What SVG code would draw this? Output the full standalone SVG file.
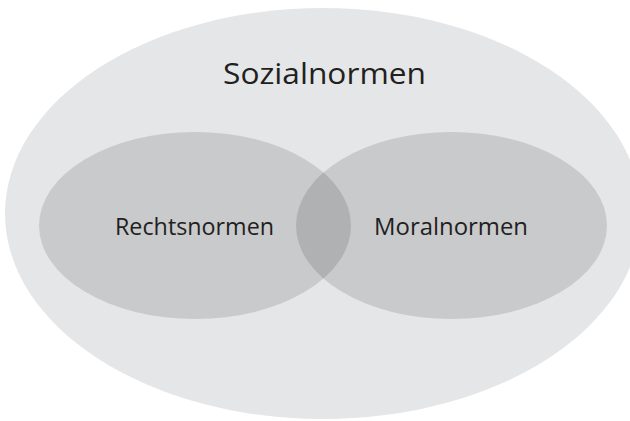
<svg xmlns="http://www.w3.org/2000/svg" width="630" height="421" viewBox="0 0 630 421">
  <style>
    .lbl { font-family: "Open Sans", "Noto Sans", "Liberation Sans", sans-serif; fill: #231f20; text-anchor: middle; }
    .inner { fill: #000000; fill-opacity: 0.122; }
  </style>
  <rect x="0" y="0" width="630" height="421" fill="#ffffff"/>
  <g id="sozialnormen">
    <ellipse cx="323" cy="213.5" rx="318" ry="205.5" fill="#e5e6e8"/>
    <text class="lbl" x="324.5" y="84" font-size="30" textLength="203" lengthAdjust="spacingAndGlyphs">Sozialnormen</text>
  </g>
  <g id="rechtsnormen">
    <ellipse class="inner" cx="195" cy="225.5" rx="156" ry="93.5"/>
    <text class="lbl" x="194.5" y="235" font-size="23" textLength="159" lengthAdjust="spacingAndGlyphs">Rechtsnormen</text>
  </g>
  <g id="moralnormen">
    <ellipse class="inner" cx="451.5" cy="225.5" rx="155.5" ry="93.5"/>
    <text class="lbl" x="451" y="235" font-size="23" textLength="154" lengthAdjust="spacingAndGlyphs">Moralnormen</text>
  </g>
  <g id="connectors"/>
</svg>
